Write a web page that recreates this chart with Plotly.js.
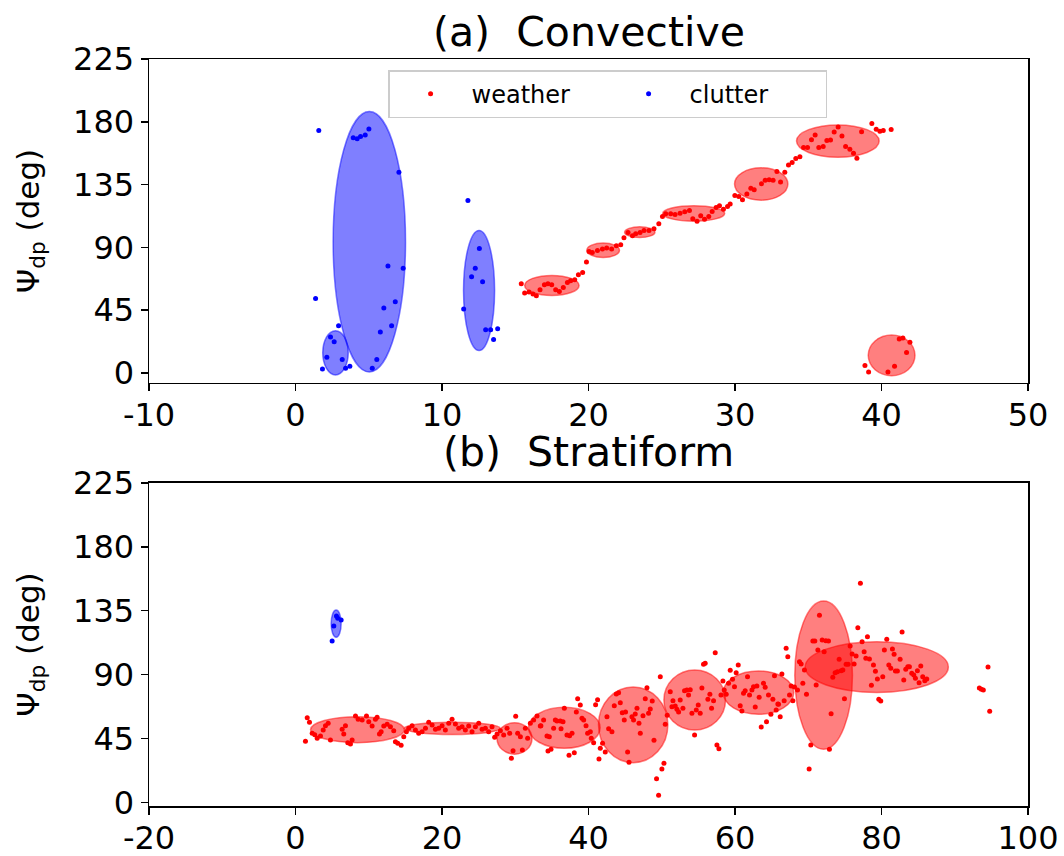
<!DOCTYPE html>
<html>
<head>
<meta charset="utf-8">
<script src="https://cdn.plot.ly/plotly-3.0.1.min.js"></script>
<style>html,body{margin:0;padding:0;background:#fff;}#chart{width:1064px;height:856px;}</style>
</head>
<body>
<div id="chart"></div>
<script>
// ---------- (a) Convective ----------
const topWeatherX = [15.41,15.64,15.94,16.21,16.44,16.69,16.99,17.23,17.49,17.76,18.01,18.28,18.56,18.78,19.06,19.31,19.6,19.86,20.04,20.26,20.61,20.95,21.24,21.58,21.9,22.2,22.42,22.7,23.0,23.22,23.52,23.79,24.13,24.47,24.8,25.05,25.27,25.61,25.91,26.25,26.57,26.89,27.12,27.41,27.66,27.92,28.21,28.44,28.71,28.94,29.21,29.49,29.67,
  29.99,30.26,30.51,30.81,31.08,31.31,31.81,32.06,32.33,32.6,32.86,33.11,33.4,33.65,33.9,34.15,34.43,34.68,34.95,35.22,35.47,35.72,36.02,36.27,36.52,36.77,37.04,37.3,37.55,37.84,38.09,38.32,38.64,39.34,39.64,39.89,40.12,40.66,
  38.87,39.12,40.44,40.89,41.71,41.94,41.21,41.46];
const topWeatherY = [63.9,57.3,58.0,56.5,55.3,59.6,63.2,63.9,63.2,59.6,58.4,61.3,64.9,66.1,66.8,70.4,72.0,79.5,87.1,86.4,87.8,88.8,89.5,88.8,91.1,91.8,96.9,100.6,98.3,99.7,100.6,102.1,102.1,103.3,106.9,112.1,114.0,114.0,113.5,114.5,115.5,116.4,110.5,108.8,112.6,110.2,112.1,115.7,118.5,119.8,117.4,119.3,121.0,
  127.1,126.4,124.1,128.3,132.4,131.2,135.5,138.1,138.4,138.1,144.3,136.9,143.9,149.1,150.8,153.6,155.0,161.5,161.5,167.2,170.6,161.5,162.2,166.5,167.0,172.7,176.3,169.9,162.2,160.3,157.5,153.9,172.9,178.7,174.7,173.2,173.7,174.4,
  5.4,0.7,0.7,4.7,14.7,21.9,24.3,25.0];
const topClutterX = [1.59,3.94,4.21,4.44,4.76,5.01,7.06,11.77,6.31,7.35,1.37,6.81,6.03,6.56,5.79,2.94,2.39,2.64,2.14,3.19,5.55,1.84,3.42,3.71,5.24,11.48,12.02,12.27,12.55,12.77,12.98,13.32,13.8,13.52];
const topClutterY = [173.7,168.6,167.9,169.4,170.6,174.9,143.9,123.6,76.6,75.1,53.4,51.0,46.5,33.9,29.3,33.9,25.8,22.4,11.2,9.7,9.7,2.9,3.3,4.7,3.3,45.8,68.9,75.1,89.2,65.4,31.0,31.0,31.7,23.9];

const topWxEllCx = [17.5,21.0,23.5,27.18,31.79,37.02,40.69];
const topWxEllCy = [62.7,87.9,100.9,114.3,135.4,166.2,12.6];
const topWxEllW  = [3.71,2.23,2.07,4.23,3.64,5.64,3.19];
const topWxEllH  = [14.4,10.4,7.6,11.0,23.2,23.1,29.1];
const topClEllCx = [2.73,5.04,12.53];
const topClEllCy = [14.4,94.0,59.0];
const topClEllW  = [1.74,4.94,2.12];
const topClEllH  = [31.7,186.6,86.0];

// ---------- (b) Stratiform ----------
const botWeatherX = [1.6,1.91,1.36,2.28,2.63,2.96,3.41,3.78,4.09,4.46,4.77,6.37,6.59,6.82,7.14,7.5,7.73,8.19,8.55,9.1,9.69,10.0,10.46,10.91,11.14,11.46,11.69,12.05,12.51,12.96,13.41,13.64,13.96,14.42,14.78,15.14,15.46,15.92,16.37,16.82,17.28,17.74,18.19,18.65,19.1,19.55,20.01,20.46,20.92,21.37,21.83,22.28,22.74,23.19,23.64,24.1,24.56,25.01,25.47,25.92,26.37,26.83,27.19,27.52,27.97,28.42,28.88,29.24,30.06,30.33,30.7,29.7,29.47,30.97,31.38,31.69,32.06,32.51,32.97,33.42,33.87,34.33,34.47,34.88,35.24,35.7,
  33.5,34.65,35.47,36.15,36.52,36.25,36.7,37.06,37.42,37.75,37.34,38.06,38.34,38.52,38.88,39.11,39.34,39.66,39.88,40.25,40.38,40.7,40.97,41.24,41.43,41.61,41.92,42.29,42.52,42.75,43.2,43.52,43.79,44.11,44.34,44.61,44.88,45.06,45.34,45.53,45.93,46.15,46.38,46.62,46.89,47.07,47.44,47.75,47.98,48.2,48.43,48.7,48.94,49.29,49.57,49.8,50.02,50.3,50.48,50.75,51.16,51.53,51.39,51.84,52.07,52.3,52.52,52.89,53.11,53.43,53.66,53.89,54.12,54.48,54.71,54.98,55.25,55.48,55.7,55.93,56.3,56.57,56.8,57.07,57.3,57.53,57.8,58.08,58.35,58.53,58.8,59.12,59.35,59.66,59.93,60.16,60.44,60.71,60.94,61.16,61.39,61.71,61.98,62.31,62.53,62.76,62.99,63.3,63.58,63.89,64.12,64.3,64.57,64.9,65.17,65.39,65.62,65.85,
  65.94,66.17,66.4,66.71,66.98,67.21,67.44,67.67,67.9,68.12,68.53,68.8,69.03,69.26,69.48,69.76,70.12,70.35,70.63,70.9,71.08,71.31,71.53,71.9,72.17,72.4,72.76,72.89,73.12,73.35,73.67,73.98,74.22,74.49,74.72,74.94,75.17,75.44,75.72,75.99,76.26,76.53,76.77,77.12,77.35,77.63,77.86,78.08,78.35,78.62,78.9,79.17,79.44,79.63,79.9,80.17,80.39,80.72,81.0,81.27,81.49,81.72,81.9,82.17,82.54,82.81,83.04,83.31,83.59,83.81,84.13,84.41,84.63,84.9,85.13,85.36,85.63,85.91,86.18,93.36,93.63,93.9,94.54,94.77];
const botWeatherY = [59.6,56.4,43.0,48.6,47.6,45.1,46.7,50.9,54.0,55.7,43.9,51.4,48.1,54.0,42.0,41.1,43.9,60.8,58.5,58.0,60.8,56.8,53.8,58.5,59.9,48.1,49.8,53.8,55.0,53.3,50.5,42.7,41.6,40.2,46.2,49.8,52.1,54.0,50.9,48.6,49.8,52.1,56.4,54.5,51.4,52.1,54.0,50.9,55.7,58.5,55.2,52.1,53.3,50.9,53.8,49.8,53.3,55.7,51.4,52.1,49.8,53.3,45.8,48.1,50.5,47.4,52.1,48.6,60.6,48.6,46.2,36.4,31.0,36.9,52.1,45.1,55.7,58.0,60.8,53.8,58.0,46.7,36.2,37.4,52.1,57.3,
  54.0,46.2,58.0,57.3,56.8,51.9,66.2,47.4,46.9,48.6,33.1,35.0,63.6,73.0,68.6,59.2,58.0,54.0,48.6,49.8,45.1,42.0,68.8,72.3,30.5,38.1,41.6,35.4,60.3,51.9,49.8,68.1,76.3,77.2,70.2,63.1,58.0,63.6,35.4,28.2,60.3,58.0,62.2,66.2,55.7,48.6,61.0,73.0,80.8,62.7,65.7,71.4,43.7,16.6,4.9,88.5,23.5,27.5,55.0,61.3,77.9,71.6,67.4,67.9,65.5,63.6,72.1,66.2,78.6,79.1,75.6,79.4,62.7,47.4,65.0,68.6,62.7,80.5,97.3,98.0,72.6,76.1,66.2,71.6,105.4,40.4,37.8,75.6,85.5,79.1,76.1,83.9,93.0,86.7,81.5,91.3,96.8,68.1,64.3,76.8,78.6,88.5,75.6,79.1,81.5,67.2,82.0,74.0,53.1,83.9,81.0,56.8,75.6,62.0,72.6,89.2,65.0,69.3,
  69.1,60.3,90.4,71.6,108.5,102.6,75.6,82.0,71.6,81.3,79.1,99.1,97.5,83.9,93.2,76.1,23.5,40.4,113.7,113.7,82.7,107.3,131.8,114.4,106.1,113.9,113.7,37.4,62.4,88.1,91.3,92.0,100.8,92.7,93.2,73.0,97.3,97.3,110.1,104.5,97.5,103.1,123.0,154.3,113.2,106.1,101.5,116.7,101.0,82.5,96.8,92.3,86.9,72.6,71.4,88.5,107.3,114.9,96.8,94.4,108.0,104.3,92.5,92.5,100.8,120.0,86.2,93.7,95.6,95.6,90.9,89.7,87.4,92.7,84.3,96.1,88.5,85.7,86.9,80.5,79.6,79.1,95.3,64.1];
const botClutterX = [5.0,5.23,5.59,5.77,6.23];
const botClutterY = [113.7,124.2,131.3,129.7,128.5];

const botWxEllCx = [8.46,21.4,29.9,36.7,46.1,54.5,63.2,72.1,79.35];
const botWxEllCy = [51.2,52.1,45.0,52.5,54.6,72.1,77.3,89.6,95.3];
const botWxEllW  = [12.82,13.1,4.77,9.78,9.47,8.41,9.63,7.87,19.55];
const botWxEllH  = [18.3,8.5,22.1,28.8,53.4,42.2,30.5,104.5,35.7];
const botClEllCx = [5.55];
const botClEllCy = [125.9];
const botClEllW  = [1.36];
const botClEllH  = [19.2];

// ---------- ticks ----------
const topXTicks = [-10,0,10,20,30,40,50];
const topXTickText = ['-10','0','10','20','30','40','50'];
const botXTicks = [-20,0,20,40,60,80,100];
const botXTickText = ['-20','0','20','40','60','80','100'];
const yTicks = [0,45,90,135,180,225];

const FONT = 'DejaVu Sans, sans-serif';
const RED = 'rgb(255,0,0)', BLUE = 'rgb(0,0,255)';
const RED_A = 'rgba(255,0,0,0.5)', BLUE_A = 'rgba(0,0,255,0.5)';

function ellipses(cx, cy, w, h, color, xref, yref) {
  return cx.map((c, i) => ({
    type: 'circle', xref: xref, yref: yref, layer: 'below',
    x0: c - w[i] / 2, x1: c + w[i] / 2,
    y0: cy[i] - h[i] / 2, y1: cy[i] + h[i] / 2,
    fillcolor: color, line: {color: color, width: 1.5}
  }));
}

const mk = (c) => ({color: c, size: 5});
const traces = [
  {x: topWeatherX, y: topWeatherY, type: 'scatter', mode: 'markers', name: 'weather', marker: mk(RED), xaxis: 'x', yaxis: 'y', showlegend: true},
  {x: topClutterX, y: topClutterY, type: 'scatter', mode: 'markers', name: 'clutter', marker: mk(BLUE), xaxis: 'x', yaxis: 'y', showlegend: true},
  {x: botWeatherX, y: botWeatherY, type: 'scatter', mode: 'markers', name: 'weather', marker: mk(RED), xaxis: 'x2', yaxis: 'y2', showlegend: false},
  {x: botClutterX, y: botClutterY, type: 'scatter', mode: 'markers', name: 'clutter', marker: mk(BLUE), xaxis: 'x2', yaxis: 'y2', showlegend: false}
];

const axisCommon = {
  showline: true, mirror: true, linecolor: 'black', linewidth: 1.5,
  ticks: 'outside', ticklen: 7, tickwidth: 1.5, tickcolor: 'black',
  showgrid: false, zeroline: false,
  tickfont: {family: FONT, size: 32, color: 'black'}
};
const yTitle = {text: 'Ψ<sub>dp</sub> (deg)', font: {family: FONT, size: 31, color: 'black'}, standoff: 24};

const layout = {
  width: 1064, height: 856,
  paper_bgcolor: 'white', plot_bgcolor: 'white',
  margin: {l: 149, r: 36, t: 59, b: 50},
  showlegend: true,
  legend: {
    orientation: 'h', x: 0.272, y: 0.985, xanchor: 'left', yanchor: 'top',
    bgcolor: 'white', bordercolor: '#cccccc', borderwidth: 1.5,
    font: {family: FONT, size: 24, color: 'black'},
    entrywidth: 131, entrywidthmode: 'pixels', itemwidth: 72
  },
  xaxis: Object.assign({}, axisCommon, {domain: [0, 1], anchor: 'y', range: [-10, 50], tickvals: topXTicks, ticktext: topXTickText, ticklabelstandoff: -4}),
  yaxis: Object.assign({}, axisCommon, {domain: [0.5663, 1], anchor: 'x', range: [-7.2, 225], tickvals: yTicks, title: yTitle}),
  xaxis2: Object.assign({}, axisCommon, {domain: [0, 1], anchor: 'y2', range: [-20, 100], tickvals: botXTicks, ticktext: botXTickText, ticklabelstandoff: -4}),
  yaxis2: Object.assign({}, axisCommon, {domain: [0, 0.4324], anchor: 'x2', range: [-2.6, 225], tickvals: yTicks, title: yTitle}),
  annotations: [
    {text: '(a)\u00a0 Convective', xref: 'paper', yref: 'paper', x: 0.5, y: 1.036, xanchor: 'center', yanchor: 'middle', showarrow: false, font: {family: FONT, size: 41, color: 'black'}},
    {text: '(b)\u00a0 Stratiform', xref: 'paper', yref: 'paper', x: 0.5, y: 0.4736, xanchor: 'center', yanchor: 'middle', showarrow: false, font: {family: FONT, size: 41, color: 'black'}}
  ],
  shapes: [].concat(
    ellipses(topWxEllCx, topWxEllCy, topWxEllW, topWxEllH, RED_A, 'x', 'y'),
    ellipses(topClEllCx, topClEllCy, topClEllW, topClEllH, BLUE_A, 'x', 'y'),
    ellipses(botWxEllCx, botWxEllCy, botWxEllW, botWxEllH, RED_A, 'x2', 'y2'),
    ellipses(botClEllCx, botClEllCy, botClEllW, botClEllH, BLUE_A, 'x2', 'y2')
  )
};

Plotly.newPlot('chart', traces, layout, {displayModeBar: false, staticPlot: true});
</script>
</body>
</html>
